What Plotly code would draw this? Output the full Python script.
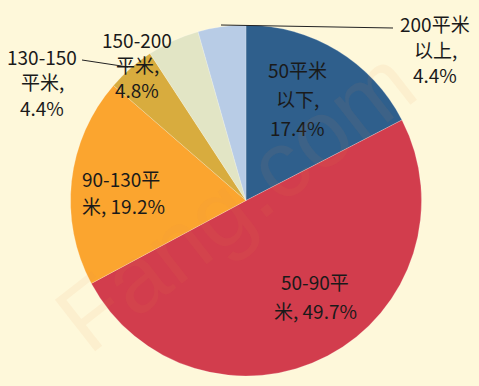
import plotly.graph_objects as go

W, H = 479, 386

categories = ["50平米以下", "50-90平米", "90-130平米", "130-150平米", "150-200平米", "200平米以上"]
values = [17.4, 49.7, 19.2, 4.4, 4.8, 4.4]
label_lines = [["50平米", "以下,", "17.4%"],
               ["50-90平", "米, 49.7%"],
               ["90-130平", "米, 19.2%"],
               ["130-150", "平米,", "4.4%"],
               ["150-200", "平米,", "4.8%"],
               ["200平米", "以上,", "4.4%"]]
colors = ["#2F5F8C", "#D23D4D", "#FBA52F", "#D8AC3E", "#E2E5C5", "#B8CCE6"]

# label layout in pixels: (x anchor, anchor side, first line y, line step)
label_layout = [(297, "center", 70, 28.5),
                (315, "center", 281, 29),
                (80, "left", 178, 27),
                (42, "center", 57, 25),
                (137, "center", 39.5, 25),
                (435, "center", 23.5, 25.5)]

fig = go.Figure()
fig.add_trace(go.Pie(
    labels=categories, values=values, sort=False, direction="clockwise", rotation=0,
    marker=dict(colors=colors, line=dict(color="rgba(255,255,255,0.35)", width=0.6)),
    textinfo="none", hoverinfo="label+percent", showlegend=False,
    domain=dict(x=[70 / W, 422 / W], y=[10 / H, 361 / H]),
))

ann = []
for lines, (px, side, y0, step) in zip(label_lines, label_layout):
    for i, t in enumerate(lines):
        ann.append(dict(text=t, x=px / W, y=1 - (y0 + i * step) / H, xref="paper", yref="paper",
                        xanchor=side, yanchor="middle", showarrow=False,
                        font=dict(family="Noto Sans CJK SC, Liberation Sans, sans-serif", size=19,
                                  color="#1a1a1a")))

# faint watermark
ann.append(dict(text="Fang.com", x=235 / W, y=1 - 200 / H, xref="paper", yref="paper",
                showarrow=False, textangle=-38,
                font=dict(family="Liberation Sans, sans-serif", size=95, color="rgba(235,140,80,0.08)")))

shapes = [
    dict(type="line", xref="paper", yref="paper", x0=221 / W, y0=1 - 25 / H, x1=393 / W, y1=1 - 28 / H,
         line=dict(color="#222222", width=1)),
    dict(type="line", xref="paper", yref="paper", x0=82 / W, y0=1 - 60 / H, x1=128 / W, y1=1 - 67 / H,
         line=dict(color="#222222", width=1)),
]

fig.update_layout(
    width=W, height=H, margin=dict(l=0, r=0, t=0, b=0),
    paper_bgcolor="#FEF8DA", plot_bgcolor="#FEF8DA",
    annotations=ann, shapes=shapes,
)
fig.write_html("out.html", config={"displayModeBar": False},
               post_script="document.body.style.margin='0';document.body.style.background='#FEF8DA';")
